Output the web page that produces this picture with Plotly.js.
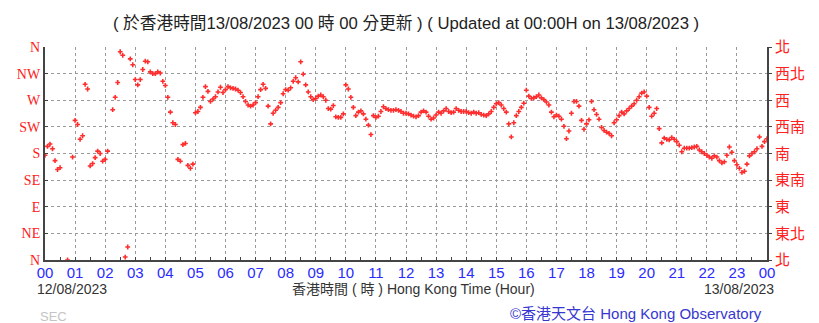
<!DOCTYPE html>
<html>
<head>
<meta charset="utf-8">
<script src="https://cdn.plot.ly/plotly-3.0.1.min.js"></script>
<style>
  html, body { margin: 0; padding: 0; background: #ffffff; }
  #chart { width: 819px; height: 323px; }
</style>
</head>
<body>
<div id="chart"></div>
<script>
// Wind direction (degrees) every 5 minutes, 00:00 12/08/2023 to 00:00 13/08/2023
const stepMinutes = 5;
const directionDeg = [
  177,192,196,188,168,153,156,null,null,0,null,174,          // 00
  236,229,204,210,297,289,159,163,173,184,180,167,           // 01
  170,184,null,254,275,300,352,346,5,22,340,330,             // 02
  305,296,305,322,336,335,318,315,315,318,316,302,           // 03
  295,275,250,232,229,170,167,195,197,160,155,162,           // 04
  249,251,258,275,293,285,268,272,276,284,292,283,           // 05
  288,293,291,290,289,287,283,276,268,262,260,262,           // 06
  266,276,288,297,290,260,230,248,253,258,266,281,           // 07
  288,287,291,302,308,301,335,314,296,284,276,271,           // 08
  273,277,279,276,270,256,255,261,242,241,241,247,           // 09
  296,289,275,258,244,250,252,247,238,228,212,244,           // 10
  241,243,251,259,256,254,253,253,254,253,251,248,           // 11
  248,247,245,243,242,244,250,252,250,243,238,240,           // 12
  245,250,248,252,256,251,249,250,256,253,251,251,           // 13
  251,249,248,250,248,249,246,245,244,247,251,258,           // 14
  264,266,262,256,250,230,208,232,244,251,258,265,           // 15
  287,277,273,274,276,279,274,271,267,262,250,242,           // 16
  245,243,238,226,205,218,248,268,268,260,236,221,           // 17
  230,237,268,254,246,238,224,219,216,214,210,232,           // 18
  237,244,250,247,252,256,260,264,270,276,282,284,           // 19
  277,258,243,248,256,222,198,206,204,203,207,204,           // 20
  200,194,183,189,189,189,190,191,192,186,183,180,           // 21
  177,174,172,176,174,168,164,166,177,191,182,168,           // 22
  161,155,148,150,162,176,180,183,188,208,192,200,           // 23
  205                                                        // 24
];

const hourTicks = [0,1,2,3,4,5,6,7,8,9,10,11,12,13,14,15,16,17,18,19,20,21,22,23,24];
const hourLabels = ['00','01','02','03','04','05','06','07','08','09','10','11','12',
                    '13','14','15','16','17','18','19','20','21','22','23','00'];
const dirTicks = [0,45,90,135,180,225,270,315,360];
const dirLabelsEn = ['N','NE','E','SE','S','SW','W','NW','N'];
const dirLabelsZh = ['北','東北','東','東南','南','西南','西','西北','北'];

const titleText = '( 於香港時間13/08/2023 00 時 00 分更新 ) ( Updated at 00:00H on 13/08/2023 )';
const startDate = '12/08/2023';
const endDate = '13/08/2023';
const xTitle = '香港時間 ( 時 ) Hong Kong Time (Hour)';
const credit = '©香港天文台 Hong Kong Observatory';

const hours = directionDeg.map((_, i) => i * stepMinutes / 60);

const cjk = '"Noto Sans CJK TC", "Noto Sans CJK SC", sans-serif';
const latin = '"Liberation Sans", Arial, "Noto Sans CJK TC", sans-serif';

const traces = [
  {
    x: hours, y: directionDeg, type: 'scatter', mode: 'markers',
    marker: { color: '#ff2e2e', size: 4, symbol: 'cross', line: { width: 0 } },
    hoverinfo: 'skip', yaxis: 'y'
  },
  {
    x: [0], y: [null], type: 'scatter', mode: 'markers', yaxis: 'y2',
    hoverinfo: 'skip', showlegend: false
  }
];

const layout = {
  width: 819, height: 323,
  margin: { l: 45, r: 52, t: 47, b: 63 },
  paper_bgcolor: '#ffffff', plot_bgcolor: '#ffffff',
  showlegend: false,
  title: {
    text: titleText, x: 0.5, xanchor: 'center', xref: 'paper',
    y: 1 - 23/323, yref: 'container', yanchor: 'middle',
    font: { family: latin, size: 16.7, color: '#222222' }
  },
  xaxis: {
    range: [0, 24], tickmode: 'array', tickvals: hourTicks, ticktext: hourLabels,
    tickfont: { family: latin, size: 15, color: '#2b2bff' },
    ticklabelstandoff: -2,
    showgrid: true, gridcolor: '#9a9a9a', griddash: 'dot', gridwidth: 1,
    showline: true, linecolor: '#444444', linewidth: 2,
    ticks: 'inside', ticklen: 3, tickcolor: '#444444',
    minor: { dtick: 0.5, tick0: 0, ticks: 'inside', ticklen: 3, tickcolor: '#444444', showgrid: false },
    zeroline: false, fixedrange: true
  },
  yaxis: {
    range: [0, 360], tickmode: 'array', tickvals: dirTicks, ticktext: dirLabelsEn,
    tickfont: { family: '"Liberation Serif", "DejaVu Serif", serif', size: 14, color: '#ff2020' },
    showgrid: true, gridcolor: '#9a9a9a', griddash: 'dot', gridwidth: 1,
    showline: true, linecolor: '#444444', linewidth: 2,
    ticks: 'inside', ticklen: 3, tickcolor: '#444444',
    zeroline: false, fixedrange: true
  },
  yaxis2: {
    range: [0, 360], overlaying: 'y', side: 'right', tickmode: 'array',
    tickvals: dirTicks, ticktext: dirLabelsZh,
    tickfont: { family: cjk, size: 15, color: '#ff2020' },
    showgrid: false, showline: true, linecolor: '#444444', linewidth: 2,
    ticks: 'outside', ticklen: 3, tickcolor: '#444444',
    zeroline: false, fixedrange: true
  },
  annotations: [
    { text: startDate, xref: 'paper', yref: 'paper', x: -0.0139, y: -0.136,
      xanchor: 'left', yanchor: 'middle', showarrow: false,
      font: { family: latin, size: 14, color: '#333333' } },
    { text: xTitle, xref: 'paper', yref: 'paper', x: 0.51, y: -0.136,
      xanchor: 'center', yanchor: 'middle', showarrow: false,
      font: { family: latin, size: 14, color: '#333333' } },
    { text: endDate, xref: 'paper', yref: 'paper', x: 1.0125, y: -0.136,
      xanchor: 'right', yanchor: 'middle', showarrow: false,
      font: { family: latin, size: 14, color: '#333333' } },
    { text: 'SEC', xref: 'paper', yref: 'paper', x: -0.0097, y: -0.263,
      xanchor: 'left', yanchor: 'middle', showarrow: false,
      font: { family: latin, size: 13, color: '#c4c4c4' } },
    { text: credit, xref: 'paper', yref: 'paper', x: 0.996, y: -0.249,
      xanchor: 'right', yanchor: 'middle', showarrow: false,
      font: { family: latin, size: 15, color: '#3737d0' } }
  ]
};

Plotly.newPlot('chart', traces, layout, { staticPlot: true, displayModeBar: false });
</script>
</body>
</html>
